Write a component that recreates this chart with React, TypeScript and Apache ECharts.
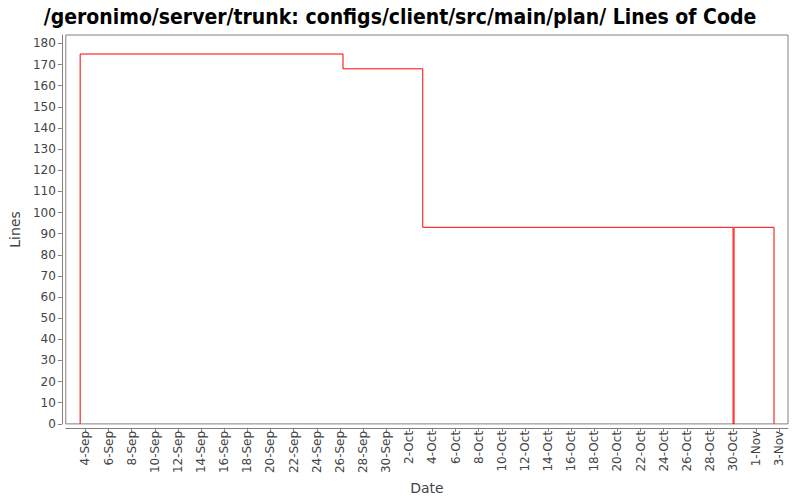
import React, { useEffect, useRef } from "react";
import * as echarts from "echarts";

const titleText = "/geronimo/server/trunk: configs/client/src/main/plan/ Lines of Code";
const commitTimes = [
  "2006-09-03T13:00",
  "2006-09-03T13:00",
  "2006-09-26T06:30",
  "2006-10-03T04:00",
  "2006-10-30T00:00",
  "2006-10-30T02:00",
  "2006-11-02T13:00",
];
const linesOfCode = [0, 175, 168, 93, 0, 93, 0];
const yTicks = [0, 10, 20, 30, 40, 50, 60, 70, 80, 90, 100, 110, 120, 130, 140, 150, 160, 170, 180];
const xTickDates = [
  "2006-09-04", "2006-09-06", "2006-09-08", "2006-09-10", "2006-09-12", "2006-09-14",
  "2006-09-16", "2006-09-18", "2006-09-20", "2006-09-22", "2006-09-24", "2006-09-26",
  "2006-09-28", "2006-09-30", "2006-10-02", "2006-10-04", "2006-10-06", "2006-10-08",
  "2006-10-10", "2006-10-12", "2006-10-14", "2006-10-16", "2006-10-18", "2006-10-20",
  "2006-10-22", "2006-10-24", "2006-10-26", "2006-10-28", "2006-10-30", "2006-11-01",
  "2006-11-03",
];
const monthNames = ["Jan", "Feb", "Mar", "Apr", "May", "Jun", "Jul", "Aug", "Sep", "Oct", "Nov", "Dec"];

const DAY = 86400000;
function ts(s: string): number {
  const [d, t] = s.split("T");
  const [y, m, day] = d.split("-").map(Number);
  let hh = 0, mm = 0;
  if (t) {
    const p = t.split(":").map(Number);
    hh = p[0];
    mm = p[1];
  }
  return Date.UTC(y, m - 1, day, hh, mm);
}
const BASE = ts(xTickDates[0]);
function dayNum(s: string): number {
  return (ts(s) - BASE) / DAY;
}

export default function App() {
  const ref = useRef<HTMLDivElement>(null);
  useEffect(() => {
    if (!ref.current) return;
    const chart = echarts.init(ref.current, undefined, { renderer: "svg" });
    const tickVals = xTickDates.map(dayNum);
    const xMin = -1.7;
    const xMax = dayNum(xTickDates[xTickDates.length - 1]) + 0.75;
    const labelFont = "'DejaVu Sans', sans-serif";
    chart.setOption({
      animation: false,
      backgroundColor: "#ffffff",
      title: {
        text: titleText,
        left: "center",
        top: 1,
        textStyle: {
          fontFamily: "'DejaVu Sans Condensed', 'DejaVu Sans', sans-serif",
          fontWeight: "bold",
          fontSize: 21,
          color: "#000000",
        },
      },
      grid: {
        left: 63,
        right: 12,
        top: 35,
        bottom: 74,
        show: true,
        borderColor: "#808080",
        borderWidth: 1,
        backgroundColor: "#ffffff",
      },
      xAxis: {
        type: "value",
        min: xMin,
        max: xMax,
        offset: 4,
        name: "Date",
        nameLocation: "middle",
        nameGap: 47,
        nameTextStyle: { fontFamily: labelFont, fontSize: 14, color: "#444444" },
        axisLine: { show: true, onZero: false, lineStyle: { color: "#808080" } },
        axisTick: { show: true, length: 4, lineStyle: { color: "#808080" }, customValues: tickVals },
        axisLabel: {
          customValues: tickVals,
          rotate: 90,
          margin: 3,
          fontFamily: labelFont,
          fontSize: 12,
          color: "#444444",
          formatter: (v: number) => {
            const d = new Date(BASE + Math.round(v) * DAY);
            return `${d.getUTCDate()}-${monthNames[d.getUTCMonth()]}`;
          },
        },
        splitLine: { show: false },
      },
      yAxis: {
        type: "value",
        min: 0,
        max: 184,
        offset: 4,
        name: "Lines",
        nameLocation: "middle",
        nameGap: 30,
        nameTextStyle: { fontFamily: labelFont, fontSize: 14, color: "#444444" },
        axisLine: { show: true, onZero: false, lineStyle: { color: "#808080" } },
        axisTick: { show: true, length: 4, lineStyle: { color: "#808080" }, customValues: yTicks },
        axisLabel: {
          customValues: yTicks,
          margin: 6,
          fontFamily: labelFont,
          fontSize: 12,
          color: "#444444",
        },
        splitLine: { show: false },
      },
      series: [
        {
          type: "line",
          step: "end",
          showSymbol: false,
          symbol: "none",
          lineStyle: { color: "#ff0000", width: 1 },
          data: commitTimes.map((t, i) => [dayNum(t), linesOfCode[i]]),
        },
      ],
    });
    return () => chart.dispose();
  }, []);
  return <div ref={ref} style={{ width: 800, height: 500, position: "absolute", left: 0, top: 0 }} />;
}
